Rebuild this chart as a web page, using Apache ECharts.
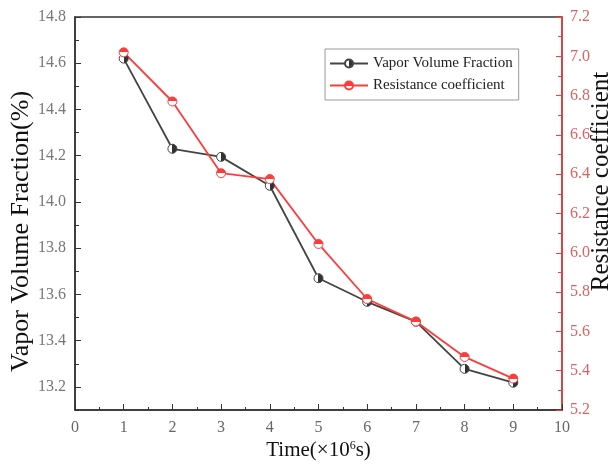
<!DOCTYPE html>
<html><head><meta charset="utf-8">
<script src="https://cdn.jsdelivr.net/npm/echarts@6/dist/echarts.min.js"></script>
<style>html,body{margin:0;padding:0;background:#fff}#c{width:614px;height:465px}</style>
</head><body><div id="c"></div>
<script>
const times = [1, 2, 3, 4, 5, 6, 7, 8, 9];
const vaporFraction = [14.62, 14.23, 14.195, 14.07, 13.67, 13.568, 13.482, 13.278, 13.218];
const resistance = [7.02, 6.77, 6.405, 6.375, 6.045, 5.765, 5.65, 5.47, 5.36];
const seriesNames = ['Vapor Volume Fraction', 'Resistance coefficient'];
const leftMajorTicks = [13.2, 13.4, 13.6, 13.8, 14.0, 14.2, 14.4, 14.6, 14.8];
const leftMinorTicks = [13.1, 13.3, 13.5, 13.7, 13.9, 14.1, 14.3, 14.5, 14.7];
const rightMinorTicks = [5.3, 5.5, 5.7, 5.9, 6.1, 6.3, 6.5, 6.7, 6.9, 7.1];
const xMinorTicks = [0.5, 1.5, 2.5, 3.5, 4.5, 5.5, 6.5, 7.5, 8.5, 9.5];

const F = 'Liberation Serif, Times New Roman, serif';
const red = '#ff3b3b';
const halfBlack = {type:'linear',x:0,y:0,x2:1,y2:0,colorStops:[{offset:0,color:'#fff'},{offset:0.5,color:'#fff'},{offset:0.5,color:'#333'},{offset:1,color:'#333'}]};
const halfRed = {type:'linear',x:0,y:0,x2:0,y2:1,colorStops:[{offset:0,color:red},{offset:0.5,color:red},{offset:0.5,color:'#fff'},{offset:1,color:'#fff'}]};

const chart = echarts.init(document.getElementById('c'), null, {renderer:'canvas'});
chart.setOption({
  animation:false,
  backgroundColor:'#fff',
  grid:{left:75, right:52, top:17, bottom:55, show:true, borderColor:'#333', borderWidth:1.5,
        containLabel:false, outerBoundsMode:'none'},
  legend:{
    left:325, top:49, orient:'vertical', itemGap:7, itemWidth:38, itemHeight:10,
    padding:[7,6,7,4],
    borderColor:'#999', borderWidth:1,
    textStyle:{fontFamily:F, fontSize:15, color:'#222'},
    data:[{name:seriesNames[0]},{name:seriesNames[1]}]
  },
  xAxis:[{
    type:'value', min:0, max:10, interval:1, position:'bottom',
    name:'Time(×10{sup|6}s)', nameLocation:'middle', nameGap:30, nameMoveOverlap:false,
    nameTextStyle:{fontFamily:F, fontSize:21, color:'#111', rich:{sup:{fontFamily:F,fontSize:12,verticalAlign:'top',padding:[0,0,9,0],color:'#111'}}},
    axisLine:{show:true, onZero:false, lineStyle:{color:'#333', width:1.5}},
    axisTick:{show:true, inside:true, length:6, lineStyle:{color:'#333'}},
    axisLabel:{fontFamily:F, fontSize:16, color:'#666', margin:10},
    splitLine:{show:false}
  },{
    type:'value', min:0, max:10, position:'bottom',
    axisLine:{show:false, onZero:false},
    axisTick:{show:true, inside:true, length:3, customValues:xMinorTicks, lineStyle:{color:'#333'}},
    axisLabel:{show:false},
    splitLine:{show:false}
  }],
  yAxis:[{
    type:'value', min:13.1, max:14.8, position:'left',
    name:'Vapor Volume Fraction(%)', nameLocation:'middle', nameGap:41, nameRotate:90, nameMoveOverlap:false,
    nameTextStyle:{fontFamily:F, fontSize:26, color:'#111', padding:[0,36,0,0]},
    axisLine:{show:true, onZero:false, lineStyle:{color:'#333', width:1.5}},
    axisTick:{show:true, inside:true, length:6, customValues:leftMajorTicks, lineStyle:{color:'#333'}},
    axisLabel:{fontFamily:F, fontSize:16, color:'#777', margin:9, customValues:leftMajorTicks,
      formatter:function(v){return v.toFixed(1);}},
    splitLine:{show:false}
  },{
    type:'value', min:5.2, max:7.2, interval:0.2, position:'right',
    name:'Resistance coefficient', nameLocation:'middle', nameGap:27, nameRotate:90, nameMoveOverlap:false,
    nameTextStyle:{fontFamily:F, fontSize:25, color:'#111', padding:[0,0,0,64]},
    axisLine:{show:true, onZero:false, lineStyle:{color:red, width:1.5}},
    axisTick:{show:true, inside:true, length:6, lineStyle:{color:red}},
    axisLabel:{fontFamily:F, fontSize:16, color:'#e06060', margin:8,
      formatter:function(v){return v.toFixed(1);}},
    splitLine:{show:false}
  },{
    type:'value', min:13.1, max:14.8, position:'left',
    axisLine:{show:false, onZero:false},
    axisTick:{show:true, inside:true, length:4, customValues:leftMinorTicks, lineStyle:{color:'#333'}},
    axisLabel:{show:false},
    splitLine:{show:false}
  },{
    type:'value', min:5.2, max:7.2, position:'right',
    axisLine:{show:false, onZero:false},
    axisTick:{show:true, inside:true, length:4, customValues:rightMinorTicks, lineStyle:{color:red}},
    axisLabel:{show:false},
    splitLine:{show:false}
  }],
  series:[{
    name:seriesNames[0], type:'line', yAxisIndex:0,
    data: times.map((t,i)=>[t, vaporFraction[i]]),
    symbol:'circle', symbolSize:9,
    lineStyle:{color:'#444', width:1.8},
    itemStyle:{color:halfBlack, borderColor:'#444', borderWidth:1}
  },{
    name:seriesNames[1], type:'line', yAxisIndex:1,
    data: times.map((t,i)=>[t, resistance[i]]),
    symbol:'circle', symbolSize:9,
    lineStyle:{color:red, width:1.8},
    itemStyle:{color:halfRed, borderColor:red, borderWidth:1}
  }]
});
</script>
</body></html>
